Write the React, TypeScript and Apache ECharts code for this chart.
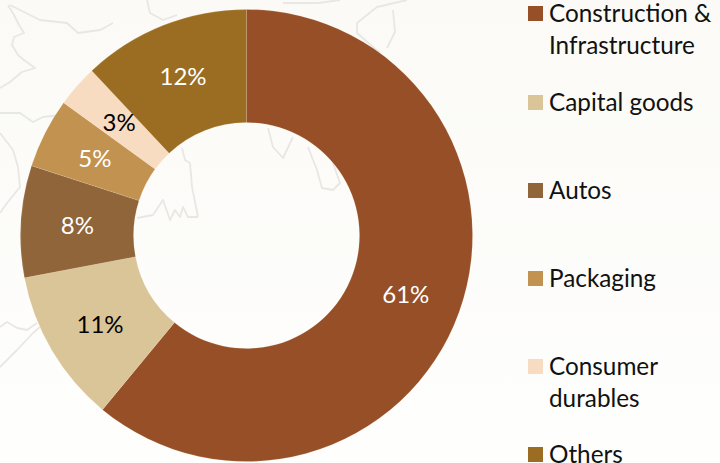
import React, { useEffect, useRef } from "react";
import * as echarts from "echarts";

const categories = ["Construction &\nInfrastructure", "Capital goods", "Autos", "Packaging", "Consumer\ndurables", "Others"];
const shares = [61, 11, 8, 5, 3, 12];
const sliceColors = ["#964f27", "#d9c598", "#90653a", "#c29350", "#f8dcc2", "#9b6d22"];
const labelColors = ["#ffffff", "#000000", "#ffffff", "#ffffff", "#000000", "#ffffff"];
const labelNudgeX = [-3, 2, 3, 2, 2, 0];
const legendTops = [6, 95, 183, 271, 359, 447];

const FONT = "Lato";
const LEGEND_LINE_GAP = 32;

// faint decorative map outline behind the chart
const mapLines: number[][][] = [
  [[8, 5], [14, 15], [19, 25], [24, 33], [14, 37], [12, 45], [18, 55], [24, 60], [35, 68], [22, 72], [10, 82], [0, 88]],
  [[10, 5], [40, 20], [67, 23], [78, 33], [100, 30], [113, 23]],
  [[0, 113], [20, 113], [33, 122], [43, 117], [60, 115]],
  [[0, 133], [13, 150], [18, 167], [20, 187], [7, 203], [0, 213]],
  [[147, 0], [150, 13], [163, 20], [177, 15]],
  [[283, 3], [298, 3], [318, 3], [340, 0]],
  [[407, 0], [377, 7], [357, 23], [357, 33], [380, 53]],
  [[393, 10], [395, 32], [387, 48]],
  [[182, 148], [185, 160], [190, 163], [192, 187], [198, 217]],
  [[137, 218], [153, 215], [163, 200], [170, 220], [175, 210], [180, 217], [183, 207], [188, 217], [198, 217]],
  [[268, 128], [273, 147], [283, 158], [293, 137]],
  [[308, 147], [317, 170], [322, 188], [333, 190], [340, 183], [333, 163]],
  [[0, 327], [7, 322], [17, 328], [27, 330], [37, 323]],
  [[0, 367], [17, 350], [33, 333], [40, 327]],
];

export default function App() {
  const ref = useRef<HTMLDivElement>(null);
  useEffect(() => {
    const chart = echarts.init(ref.current!, null, { renderer: "svg" });
    const mapEls = mapLines.map((pts) => ({
      type: "polyline",
      z: 0,
      silent: true,
      shape: { points: pts },
      style: { stroke: "#e8e7e4", lineWidth: 1.8, fill: "none", lineJoin: "round" },
    }));
    const legendEls = categories.flatMap((name, i) => [
      {
        type: "rect",
        z: 5,
        shape: { x: 528, y: legendTops[i], width: 15, height: 15 },
        style: { fill: sliceColors[i] },
      },
      ...name.split("\n").map((line, j) => ({
        type: "text",
        z: 5,
        x: 549,
        y: legendTops[i] + 6 + j * LEGEND_LINE_GAP,
        style: {
          text: line,
          fill: "#111111",
          font: `24.3px ${FONT}`,
          lineHeight: 16,
          textVerticalAlign: "middle",
        },
      })),
    ]);
    chart.setOption({
      animation: false,
      backgroundColor: {
        type: "linear",
        x: 0,
        y: 0,
        x2: 0,
        y2: 1,
        colorStops: [
          { offset: 0, color: "#fbfaf6" },
          { offset: 1, color: "#fefefd" },
        ],
      },
      graphic: { elements: [...mapEls, ...legendEls] },
      series: [
        {
          type: "pie",
          z: 2,
          center: [246.5, 235.5],
          radius: [113, 226],
          startAngle: 90,
          clockwise: true,
          avoidLabelOverlap: false,
          itemStyle: { borderColor: "rgba(255,240,215,0.25)", borderWidth: 0.5 },
          emphasis: { disabled: true },
          label: {
            show: true,
            position: "inside",
            formatter: "{c}%",
            fontFamily: FONT,
            fontSize: 24,
          },
          labelLine: { show: false },
          data: categories.map((name, i) => ({
            name,
            value: shares[i],
            itemStyle: { color: sliceColors[i] },
            label: { color: labelColors[i], offset: [labelNudgeX[i], 0] },
          })),
        },
      ],
    });
    return () => chart.dispose();
  }, []);
  return <div ref={ref} style={{ position: "fixed", left: 0, top: 0, width: 720, height: 463 }} />;
}
